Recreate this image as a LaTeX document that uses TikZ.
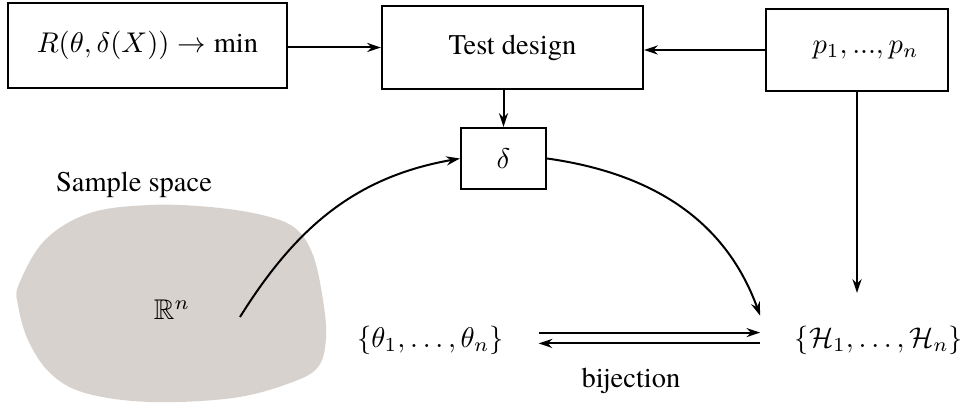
\documentclass[tikz,border=0pt]{standalone}
\usepackage{amssymb}
\usepackage{fontspec}
\setmainfont{texgyretermes}[Extension=.otf, UprightFont=*-regular, BoldFont=*-bold, ItalicFont=*-italic, BoldItalicFont=*-bolditalic]
\usetikzlibrary{arrows.meta}
\definecolor{samplegray}{RGB}{216,210,207}

\begin{document}
\begin{tikzpicture}[x=0.351pt, y=-0.351pt, >={Stealth[length=4.8pt, width=3.2pt]},
  box/.style={rectangle, draw, line width=0.8pt},
  setnode/.style={inner xsep=12pt},
  link/.style={line width=0.7pt}]
\useasboundingbox (0,0) rectangle (960,406);
\fill[samplegray] plot[smooth cycle, tension=0.6] coordinates {(19,284) (45,240) (90,213) (150,205) (210,207) (262,215) (295,228) (313,255) (323,300) (326,338) (318,367) (290,383) (233,398) (150,402) (85,393) (50,373) (28,340) (18,305)};
\node[box, minimum width=97.9pt, minimum height=29.8pt] (risk) at (147.5, 45.5) {$R(\theta, \delta(X)) \rightarrow \min$};
\node[box, minimum width=91.6pt, minimum height=29.1pt] (test) at (512.5, 47.5) {Test design};
\node[box, minimum width=63.9pt, minimum height=28.8pt] (p) at (857, 50) {\hspace{6pt}$p_1, ..., p_n$};
\node[box, minimum width=29.8pt, minimum height=21.4pt] (delta) at (503.5, 158.5) {$\delta$};
\node (space) at (134, 185) {Sample space};
\node (rn) at (172, 310) {$\mathbb{R}^n$};
\node[setnode] (theta) at (430.5, 340) {$\{\theta_1, \ldots, \theta_n\}$};
\node[setnode] (hyp) at (879, 340) {$\{\mathcal{H}_1, \ldots, \mathcal{H}_n\}$};
\node (bij) at (631, 381) {bijection};
\coordinate (src) at (240, 317);
\draw[->, link] (risk.east |- test) -- (test);
\draw[->, link] (p.west) -- (p.west -| test.east);
\draw[->, link] (test.south -| delta) -- (delta);
\draw[->, link, shorten >=8pt] (p.south) -- (p.south |- hyp.north);
\draw[->, link] (src) to[out=58, in=190] (delta.west);
\draw[->, link] (delta.east) to[out=-8, in=110] (hyp.north west);
\draw[->, link] ([yshift=2.6pt]theta.east) -- ([yshift=2.6pt]hyp.west);
\draw[->, link] ([yshift=-1.2pt]hyp.west) -- ([yshift=-1.2pt]theta.east);
\end{tikzpicture}
\end{document}
